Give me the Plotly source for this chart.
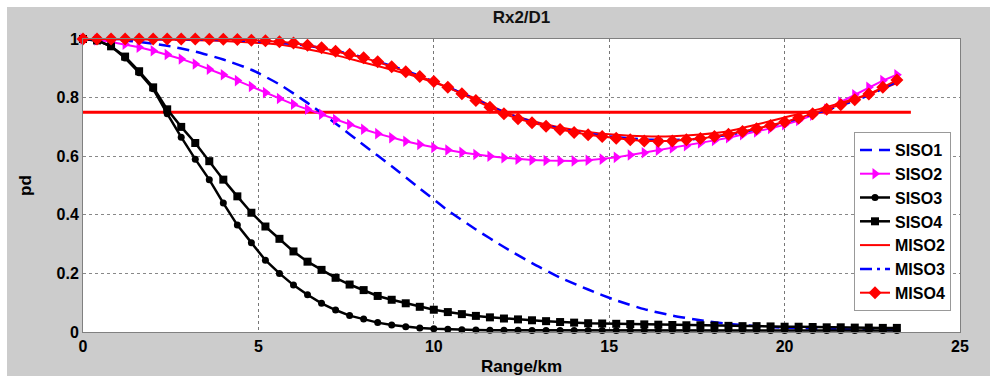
import plotly.graph_objects as go

# ---------------- data ----------------
x_mark = [round(0.4 * i, 1) for i in range(59)]          # 0 .. 23.2 km, step 0.4
x_line = [round(0.8 * i, 1) for i in range(30)]          # 0 .. 23.2 km, step 0.8

siso1 = [1.0, 0.998, 0.99, 0.977, 0.957, 0.93, 0.895, 0.845, 0.782, 0.712,
         0.638, 0.566, 0.49, 0.415, 0.35, 0.29, 0.235, 0.186, 0.145, 0.108,
         0.078, 0.056, 0.04, 0.028, 0.02, 0.015, 0.012, 0.01, 0.008, 0.007]

siso2 = [1.0, 0.997, 0.99, 0.982, 0.972, 0.96, 0.947, 0.932, 0.915, 0.897,
         0.878, 0.858, 0.838, 0.817, 0.797, 0.777, 0.76, 0.743, 0.725, 0.708,
         0.692, 0.677, 0.663, 0.651, 0.64, 0.63, 0.621, 0.613, 0.606, 0.6,
         0.595, 0.59, 0.587, 0.585, 0.584, 0.584, 0.586, 0.59, 0.596, 0.604,
         0.612, 0.62, 0.628, 0.636, 0.645, 0.654, 0.663, 0.673, 0.683, 0.695,
         0.707, 0.722, 0.74, 0.76, 0.785, 0.81, 0.835, 0.858, 0.878]

siso3 = [1.0, 0.995, 0.975, 0.935, 0.885, 0.83, 0.745, 0.665, 0.59, 0.52,
         0.44, 0.365, 0.305, 0.245, 0.2, 0.16, 0.127, 0.098, 0.075, 0.056,
         0.044, 0.032, 0.024, 0.018, 0.014, 0.011, 0.009, 0.008, 0.007, 0.006,
         0.006, 0.006, 0.005, 0.005, 0.005, 0.005, 0.005, 0.005, 0.005, 0.005,
         0.005, 0.005, 0.005, 0.005, 0.005, 0.005, 0.005, 0.005, 0.005, 0.005,
         0.005, 0.005, 0.005, 0.005, 0.005, 0.005, 0.005, 0.005, 0.005]

siso4 = [1.0, 0.995, 0.975, 0.94, 0.89, 0.835, 0.76, 0.70, 0.645, 0.583,
         0.52, 0.463, 0.407, 0.36, 0.318, 0.275, 0.24, 0.212, 0.185, 0.162,
         0.143, 0.123, 0.11, 0.098, 0.086, 0.076, 0.068, 0.061, 0.055, 0.05,
         0.046, 0.043, 0.04, 0.037, 0.034, 0.032, 0.030, 0.029, 0.028, 0.027,
         0.026, 0.025, 0.024, 0.023, 0.023, 0.022, 0.021, 0.02, 0.02, 0.019,
         0.018, 0.018, 0.017, 0.016, 0.016, 0.015, 0.015, 0.014, 0.014]

miso2 = [1.0, 1.0, 0.999, 0.998, 0.996, 0.993, 0.988, 0.981, 0.965, 0.945,
         0.92, 0.895, 0.868, 0.835, 0.796, 0.752, 0.72, 0.698, 0.683, 0.673,
         0.668, 0.668, 0.674, 0.685, 0.708, 0.732, 0.755, 0.782, 0.812, 0.85]

miso3 = [1.0, 1.0, 1.0, 0.999, 0.998, 0.996, 0.993, 0.987, 0.977, 0.96,
         0.937, 0.908, 0.874, 0.836, 0.793, 0.75, 0.717, 0.694, 0.677, 0.665,
         0.657, 0.655, 0.66, 0.673, 0.692, 0.715, 0.743, 0.773, 0.808, 0.855]

miso4 = [1.0, 1.0, 1.0, 1.0, 1.0, 1.0, 1.0, 1.0, 1.0, 0.999,
         0.999, 0.998, 0.996, 0.994, 0.991, 0.986, 0.979, 0.97, 0.958, 0.948,
         0.936, 0.922, 0.905, 0.888, 0.872, 0.855, 0.835, 0.813, 0.79, 0.767,
         0.745, 0.728, 0.714, 0.702, 0.691, 0.681, 0.673, 0.667, 0.661, 0.656,
         0.652, 0.651, 0.652, 0.656, 0.66, 0.667, 0.675, 0.684, 0.694, 0.705,
         0.717, 0.73, 0.745, 0.76, 0.776, 0.793, 0.812, 0.835, 0.86]

threshold_x = [0, 23.6]
threshold_y = [0.75, 0.75]

x_ticks = [0, 5, 10, 15, 20, 25]
y_ticks = [0, 0.2, 0.4, 0.6, 0.8, 1]

# ---------------- figure ----------------
W, H = 997, 376
L, R, T, B = 83, 37, 39, 44
FONT = "Arial, Liberation Sans, sans-serif"

fig = go.Figure()

fig.add_trace(go.Scatter(x=threshold_x, y=threshold_y, mode="lines",
                         line=dict(color="#ff0000", width=3),
                         showlegend=False, cliponaxis=False))
fig.add_trace(go.Scatter(x=x_line, y=siso1, mode="lines", name="SISO1",
                         line=dict(color="#0000ff", width=2.5, dash="12px,7px",
                                   shape="spline", smoothing=0.6),
                         cliponaxis=False))
fig.add_trace(go.Scatter(x=x_mark, y=siso2, mode="lines+markers", name="SISO2",
                         line=dict(color="#ff00ff", width=2),
                         marker=dict(symbol="triangle-right", size=10, color="#ff00ff"),
                         cliponaxis=False))
fig.add_trace(go.Scatter(x=x_mark, y=siso3, mode="lines+markers", name="SISO3",
                         line=dict(color="#000000", width=2.5),
                         marker=dict(symbol="circle", size=7, color="#000000"),
                         cliponaxis=False))
fig.add_trace(go.Scatter(x=x_mark, y=siso4, mode="lines+markers", name="SISO4",
                         line=dict(color="#000000", width=2.5),
                         marker=dict(symbol="square", size=8, color="#000000"),
                         cliponaxis=False))
fig.add_trace(go.Scatter(x=x_line, y=miso2, mode="lines", name="MISO2",
                         line=dict(color="#ff0000", width=2, shape="spline", smoothing=0.6),
                         cliponaxis=False))
fig.add_trace(go.Scatter(x=x_line, y=miso3, mode="lines", name="MISO3",
                         line=dict(color="#0000ff", width=2.5, dash="12px,5px,3px,5px",
                                   shape="spline", smoothing=0.6),
                         cliponaxis=False))
fig.add_trace(go.Scatter(x=x_mark, y=miso4, mode="lines+markers", name="MISO4",
                         line=dict(color="#ff0000", width=2),
                         marker=dict(symbol="diamond", size=10, color="#ff0000"),
                         cliponaxis=False))

# gray figure frame around the axes (leaving a thin white border)
pw, ph = W - L - R, H - T - B
def px_to_paper_x(p):
    return (p - L) / pw
def px_to_paper_y(p):
    return (H - B - p) / ph
gray = "#cccccc"
gx0, gx1, gy0, gy1 = 7, 990, 7, 376
shapes = []
for (a, b, c, d) in [
    (gx0, gx1, gy0, T),          # top strip
    (gx0, gx1, H - B, gy1),      # bottom strip
    (gx0, L, T, H - B),          # left strip
    (L + pw, gx1, T, H - B),     # right strip
]:
    shapes.append(dict(type="rect", xref="paper", yref="paper", layer="below",
                       x0=px_to_paper_x(a), x1=px_to_paper_x(b),
                       y0=px_to_paper_y(d), y1=px_to_paper_y(c),
                       fillcolor=gray, line=dict(width=0)))

fig.update_layout(
    width=W, height=H,
    margin=dict(l=L, r=R, t=T, b=B, pad=0),
    paper_bgcolor="white", plot_bgcolor="white",
    shapes=shapes,
    font=dict(family=FONT, color="black"),
    title=dict(text="Rx2/D1", x=0.5, xref="paper", y=1 - 17 / H, yref="container",
               xanchor="center", yanchor="middle",
               font=dict(size=17, weight="bold", family=FONT, color="#111")),
    xaxis=dict(range=[0, 25], tickvals=x_ticks, ticks="", showgrid=True,
               gridcolor="#777", griddash="dot", gridwidth=1,
               showline=True, linecolor="#808080", linewidth=1, mirror=True,
               zeroline=False, automargin=False,
               tickfont=dict(size=16, weight="bold", family=FONT, color="black"),
               title=dict(text="Range/km", standoff=5,
                          font=dict(size=17, weight="bold", family=FONT, color="black"))),
    yaxis=dict(range=[0, 1], tickvals=y_ticks, ticks="", showgrid=True,
               gridcolor="#888", griddash="dot", gridwidth=1,
               showline=True, linecolor="#808080", linewidth=1, mirror=True,
               zeroline=False, automargin=False,
               tickfont=dict(size=16, weight="bold", family=FONT, color="black"),
               title=dict(text="pd", standoff=20,
                          font=dict(size=17, weight="bold", family=FONT, color="black"))),
    legend=dict(x=px_to_paper_x(854), y=px_to_paper_y(132), xanchor="left", yanchor="top",
                bgcolor="white", bordercolor="#999", borderwidth=1,
                font=dict(size=16, weight="bold", family=FONT, color="black"),
                itemwidth=30, tracegroupgap=0),
)

fig.write_html("out.html")
